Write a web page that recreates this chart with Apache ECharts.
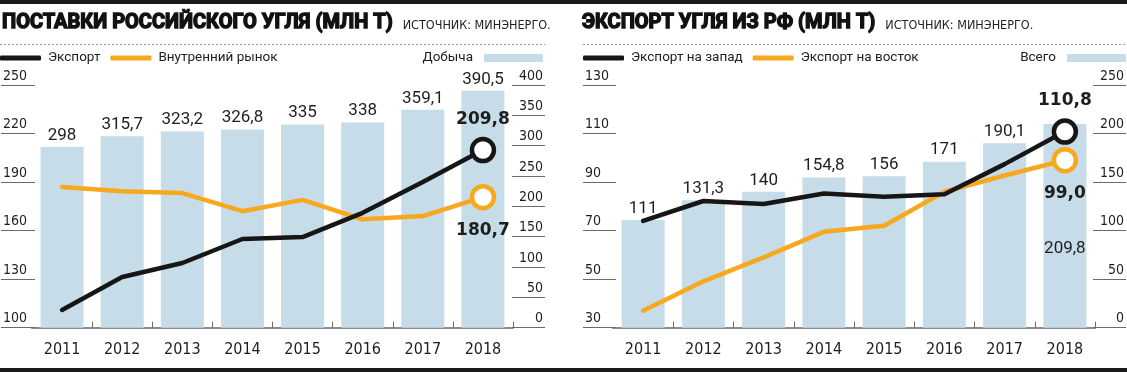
<!DOCTYPE html>
<html>
<head>
<meta charset="utf-8">
<script src="https://cdn.jsdelivr.net/npm/echarts@6/dist/echarts.min.js"></script>
<style>
html,body{margin:0;padding:0;background:#fff;}
#chart{width:1127px;height:372px;}
</style>
</head>
<body>
<div id="chart"></div>
<script>
// ---- data ----
const years = ['2011', '2012', '2013', '2014', '2015', '2016', '2017', '2018'];
// left chart: supplies of Russian coal (mln t)
const production = [298, 315.7, 323.2, 326.8, 335, 338, 359.1, 390.5];
const exportTotal = [111, 131.3, 140, 154.8, 156, 171, 190.1, 209.8];
const domestic = [187, 184.4, 183.2, 172, 179, 167, 169, 180.7];
// right chart: export of coal from RF (mln t)
const exportAll = [111, 131.3, 140, 154.8, 156, 171, 190.1, 209.8];
const exportWest = [74.0, 82.2, 81.0, 85.3, 84.0, 85.0, 97.4, 110.8];
const exportEast = [37.0, 49.1, 59.0, 69.5, 72.0, 86.0, 92.7, 99.0];
// tick labels
const ticksLeftA = [100, 130, 160, 190, 220, 250];
const ticksLeftB = [0, 50, 100, 150, 200, 250, 300, 350, 400];
const ticksRightA = [30, 50, 70, 90, 110, 130];
const ticksRightB = [0, 50, 100, 150, 200, 250];

// ---- styles ----
const NARROW = "'Liberation Sans Narrow','DejaVu Sans Condensed',sans-serif";
const ROBOTO = "Roboto,'Noto Sans',sans-serif";
const BOLDF = "'DejaVu Sans',sans-serif";
const BLACK = '#161616';
const ORANGE = '#f7a81e';
const BARC = '#c6dce8';
const TEXT = '#1e1e1e';

const fmt = v => String(v).replace('.', ',');
const fmt1 = v => Number(v).toFixed(1).replace('.', ',');

function yAxisDef(grid, pos, offset, min, max, ticks, len) {
  return {
    type: 'value', gridIndex: grid, position: pos, offset: offset,
    min: min, max: max,
    axisLine: { show: false },
    splitLine: { show: false },
    axisTick: { show: true, inside: true, length: len, customValues: ticks,
      lineStyle: { color: '#6a6a6a', width: 1 } },
    axisLabel: { show: true, inside: true, margin: 2, customValues: ticks,
      verticalAlign: 'bottom', padding: [0, 0, 2, 0],
      fontFamily: NARROW, fontSize: 14, color: TEXT }
  };
}
function xAxisDef(grid) {
  return {
    type: 'category', gridIndex: grid, data: years, boundaryGap: true,
    axisLine: { show: true, lineStyle: { color: '#8c8c8c', width: 2 } },
    axisTick: { show: true, inside: true, length: 6,
      interval: function (i) { return i > 0; },
      lineStyle: { color: '#6a6a6a', width: 1 } },
    axisLabel: { margin: 14, fontFamily: NARROW, fontSize: 16, color: TEXT },
    splitLine: { show: false }
  };
}
function barSeries(name, xi, yi, values, specialLast) {
  return {
    name: name, type: 'bar', xAxisIndex: xi, yAxisIndex: yi, barWidth: 43,
    itemStyle: { color: BARC },
    label: { show: true, position: 'top', distance: 3,
      fontFamily: ROBOTO, fontSize: 17, color: TEXT,
      formatter: p => fmt(p.value) },
    data: values.map((v, i) => (specialLast && i === values.length - 1)
      ? { value: v, label: { position: 'insideBottom', distance: 70 } }
      : v),
    z: 2
  };
}
function lineSeries(name, xi, yi, values, color, labelPos, labelDist) {
  const last = values.length - 1;
  return {
    name: name, type: 'line', xAxisIndex: xi, yAxisIndex: yi,
    symbol: 'none', showSymbol: true,
    lineStyle: { color: color, width: 4.5, cap: 'round', join: 'round' },
    itemStyle: { color: color },
    emphasis: { disabled: true },
    data: values.map((v, i) => i === last ? {
      value: v, symbol: 'circle', symbolSize: 22,
      itemStyle: { color: '#ffffff', borderColor: color, borderWidth: 4.5 },
      label: { show: true, position: labelPos, distance: labelDist,
        fontFamily: BOLDF, fontWeight: 'bold', fontSize: 17, color: TEXT,
        formatter: p => fmt1(p.value) }
    } : v),
    z: 4
  };
}
function lineLegend(left, names, colors) {
  return {
    left: left, top: 51, padding: 0, orient: 'horizontal',
    itemWidth: 41, itemHeight: 5, itemGap: 10, icon: 'roundRect',
    selectedMode: false,
    data: names.map((n, i) => ({ name: n, itemStyle: { color: colors[i], borderWidth: 0 } })),
    textStyle: { fontFamily: ROBOTO, fontSize: 13.5, color: TEXT, padding: [0, 0, 0, 2] }
  };
}
function barLegend(right, name) {
  return {
    right: right, top: 51, padding: 0, align: 'right',
    itemWidth: 59, itemHeight: 8, icon: 'rect', selectedMode: false,
    data: [{ name: name, itemStyle: { color: BARC, borderWidth: 0 } }],
    textStyle: { fontFamily: ROBOTO, fontSize: 13.5, color: TEXT, padding: [0, 6, 0, 0] }
  };
}
function titleDef(left, main) {
  return {
    left: left, top: 11, padding: 0,
    text: '{a|' + main + '}{b|ИСТОЧНИК: МИНЭНЕРГО.}',
    textStyle: { fontWeight: 'normal', rich: {
      a: { fontFamily: ROBOTO, fontWeight: 'bold', fontSize: 20, color: '#111',
        textBorderColor: '#111', textBorderWidth: 1.4,
        verticalAlign: 'bottom', lineHeight: 22 },
      b: { fontFamily: NARROW, fontWeight: 'normal', fontSize: 12.5, color: '#222',
        verticalAlign: 'bottom', lineHeight: 22, padding: [0, 0, 1, 10] }
    } }
  };
}

const chart = echarts.init(document.getElementById('chart'), null, { renderer: 'canvas' });
chart.setOption({
  animation: false,
  backgroundColor: '#ffffff',
  title: [
    titleDef(2, 'ПОСТАВКИ РОССИЙСКОГО УГЛЯ (МЛН Т)'),
    titleDef(582, 'ЭКСПОРТ УГЛЯ ИЗ РФ (МЛН Т)')
  ],
  legend: [
    lineLegend(0, ['Экспорт', 'Внутренний рынок'], [BLACK, ORANGE]),
    barLegend(584, 'Добыча'),
    lineLegend(583, ['Экспорт на запад', 'Экспорт на восток'], [BLACK, ORANGE]),
    barLegend(1, 'Всего')
  ],
  grid: [
    { left: 31, top: 85, width: 482, height: 242.7 },
    { left: 613, top: 85, width: 482, height: 242.7 }
  ],
  xAxis: [xAxisDef(0), xAxisDef(1)],
  yAxis: [
    yAxisDef(0, 'left', 31, 100, 250, ticksLeftA, 34),
    yAxisDef(0, 'right', 32, 0, 400, ticksLeftB, 33),
    yAxisDef(1, 'left', 30, 30, 130, ticksRightA, 33),
    yAxisDef(1, 'right', 31, 0, 250, ticksRightB, 33)
  ],
  series: [
    barSeries('Добыча', 0, 1, production, false),
    lineSeries('Внутренний рынок', 0, 0, domestic, ORANGE, 'bottom', 12),
    lineSeries('Экспорт', 0, 0, exportTotal, BLACK, 'top', 9),
    barSeries('Всего', 1, 3, exportAll, true),
    lineSeries('Экспорт на восток', 1, 2, exportEast, ORANGE, 'bottom', 12),
    lineSeries('Экспорт на запад', 1, 2, exportWest, BLACK, 'top', 9)
  ],
  graphic: [
    { type: 'rect', silent: true, shape: { x: 0, y: 0, width: 1127, height: 4 }, style: { fill: '#1a1a1a' } },
    { type: 'rect', silent: true, shape: { x: 0, y: 368, width: 1127, height: 4 }, style: { fill: '#1a1a1a' } },
    { type: 'line', silent: true, shape: { x1: 0, y1: 44.5, x2: 545, y2: 44.5 }, style: { stroke: '#9a9a9a', lineWidth: 1, lineDash: [2, 2] } },
    { type: 'line', silent: true, shape: { x1: 583, y1: 44.5, x2: 1127, y2: 44.5 }, style: { stroke: '#9a9a9a', lineWidth: 1, lineDash: [2, 2] } }
  ]
});
</script>
</body>
</html>
